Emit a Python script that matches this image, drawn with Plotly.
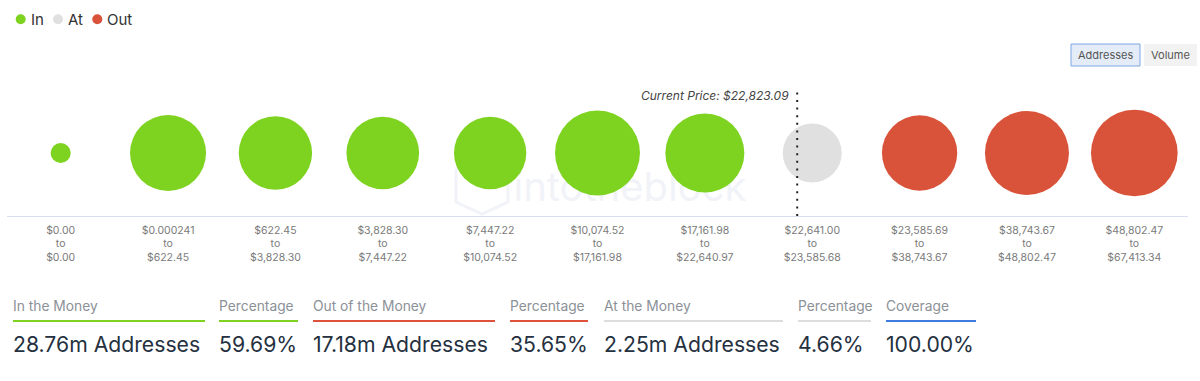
import plotly.graph_objects as go

# ---------------- data ----------------
range_labels = [
    "$0.00<br>to<br>$0.00",
    "$0.000241<br>to<br>$622.45",
    "$622.45<br>to<br>$3,828.30",
    "$3,828.30<br>to<br>$7,447.22",
    "$7,447.22<br>to<br>$10,074.52",
    "$10,074.52<br>to<br>$17,161.98",
    "$17,161.98<br>to<br>$22,640.97",
    "$22,641.00<br>to<br>$23,585.68",
    "$23,585.69<br>to<br>$38,743.67",
    "$38,743.67<br>to<br>$48,802.47",
    "$48,802.47<br>to<br>$67,413.34",
]
status = ["In", "In", "In", "In", "In", "In", "In", "At", "Out", "Out", "Out"]
addresses_m = [0.33, 4.74, 4.41, 4.33, 4.29, 5.92, 5.12, 2.85, 4.65, 5.79, 6.16]
current_price_label = "Current Price: $22,823.09"
current_price_pos = 6.86  # position along the range axis

stat_labels = ["In the Money", "Percentage", "Out of the Money", "Percentage",
               "At the Money", "Percentage", "Coverage"]
stat_values = ["28.76m Addresses", "59.69%", "17.18m Addresses", "35.65%",
               "2.25m Addresses", "4.66%", "100.00%"]

colors = {"In": "#7ED321", "At": "#E0E0E0", "Out": "#D9533A"}
stat_colors = ["#7ED321", "#7ED321", "#E0513C", "#E0513C", "#DDDDDD", "#DDDDDD", "#3D7BE0"]
stat_x_px = [13, 219, 313, 510, 604, 798, 886]
stat_w_px = [192, 79, 182, 78, 179, 73, 90]

# ---------------- layout geometry ----------------
W, H = 1200, 381
ML, MR, MT, MB = 7, 12, 90, 165
PW = W - ML - MR
PH = H - MT - MB
FONT = "Inter, 'Noto Sans', sans-serif"


def px(xp):
    return (xp - ML) / PW


def py(yp):
    return (H - MB - yp) / PH


fig = go.Figure()
xs = list(range(len(range_labels)))
for group in ["In", "At", "Out"]:
    idx = [i for i, s in enumerate(status) if s == group]
    fig.add_trace(go.Scatter(
        x=[xs[i] for i in idx],
        y=[0 for _ in idx],
        mode="markers",
        name=group,
        marker=dict(size=[addresses_m[i] for i in idx], sizemode="area",
                    sizeref=0.00164, color=colors[group], opacity=1,
                    line=dict(width=0)),
        showlegend=False,
        hoverinfo="skip",
    ))

shapes = []
annotations = []

# watermark (below data)
shapes.append(dict(type="rect", xref="paper", yref="paper",
                   x0=px(515), x1=px(745), y0=py(205), y1=py(165),
                   line=dict(width=0), fillcolor="rgba(0,0,0,0)", layer="below",
                   label=dict(text="intotheblock",
                              font=dict(family=FONT, size=40, color="#F1F3F8"))))
shapes.append(dict(type="path", xref="paper", yref="paper", layer="below",
                   path=("M {a},{b} L {c},{d} L {e},{b} L {e},{f} L {c},{g} L {a},{f} Z"
                         .format(a=px(456), b=py(170), c=px(482), d=py(158),
                                 e=px(508), f=py(202), g=py(214))),
                   line=dict(color="#F1F3F8", width=3), fillcolor="rgba(0,0,0,0)"))

# current price line
shapes.append(dict(type="line", xref="x", yref="paper",
                   x0=current_price_pos, x1=current_price_pos, y0=0, y1=py(87),
                   line=dict(color="#222222", width=2, dash="2px,5.6px")))
annotations.append(dict(x=current_price_pos, xref="x", xshift=-6, y=py(95), yref="paper",
                        text="<i>" + current_price_label + "</i>", showarrow=False,
                        xanchor="right", yanchor="middle",
                        font=dict(family=FONT, size=12, color="#444444")))

# legend (custom)
legend_items = [("In", 20.7, 31), ("At", 58, 68), ("Out", 97.3, 107)]
for name, cx, tx in legend_items:
    shapes.append(dict(type="circle", xref="paper", yref="paper",
                       xsizemode="pixel", ysizemode="pixel",
                       xanchor=px(cx), yanchor=py(19.3),
                       x0=-5, x1=5, y0=-5, y1=5,
                       fillcolor=colors[name], line=dict(width=0)))
    annotations.append(dict(x=px(tx), y=py(19.3), xref="paper", yref="paper",
                            text=name, showarrow=False, xanchor="left", yanchor="middle",
                            xshift=-2,
                            font=dict(family=FONT, size=15, color="#333333")))

# buttons
shapes.append(dict(type="rect", xref="paper", yref="paper",
                   x0=px(1071), x1=px(1140), y0=py(66), y1=py(44),
                   fillcolor="#E4ECF8", line=dict(color="#7EA6E4", width=1)))
shapes.append(dict(type="rect", xref="paper", yref="paper",
                   x0=px(1144), x1=px(1197), y0=py(66), y1=py(44),
                   fillcolor="#F2F2F2", line=dict(width=0)))
annotations.append(dict(x=px(1105.5), y=py(55), xref="paper", yref="paper", text="Addresses",
                        showarrow=False, xanchor="center", yanchor="middle",
                        font=dict(family=FONT, size=11, color="#555555")))
annotations.append(dict(x=px(1170.5), y=py(55), xref="paper", yref="paper", text="Volume",
                        showarrow=False, xanchor="center", yanchor="middle",
                        font=dict(family=FONT, size=11, color="#555555")))

# bottom stats
for lab, val, c, x0, w in zip(stat_labels, stat_values, stat_colors, stat_x_px, stat_w_px):
    annotations.append(dict(x=px(x0), y=py(305.5), xref="paper", yref="paper", text=lab,
                            showarrow=False, xanchor="left", yanchor="middle", xshift=-2,
                            font=dict(family=FONT, size=13.8, color="#8C9198")))
    annotations.append(dict(x=px(x0), y=py(344), xref="paper", yref="paper", text=val,
                            showarrow=False, xanchor="left", yanchor="middle", xshift=-2,
                            font=dict(family=FONT, size=21.2, color="#25313F")))
    shapes.append(dict(type="line", xref="paper", yref="paper",
                       x0=px(x0), x1=px(x0 + w), y0=py(321), y1=py(321),
                       line=dict(color=c, width=2)))

fig.update_layout(
    width=W, height=H,
    margin=dict(l=ML, r=MR, t=MT, b=MB),
    paper_bgcolor="white", plot_bgcolor="white",
    shapes=shapes, annotations=annotations,
    showlegend=False,
    xaxis=dict(range=[-0.5, 10.5], tickmode="array", tickvals=xs, ticktext=range_labels,
               showgrid=False, zeroline=False, showline=True, linecolor="#D8E0F0",
               linewidth=1, ticks="outside", ticklen=4, tickcolor="rgba(0,0,0,0)",
               fixedrange=True,
               tickfont=dict(family=FONT, size=10.5, color="#7A7A7A")),
    yaxis=dict(range=[-1, 1], visible=False, fixedrange=True),
)

fig.write_html("out.html", config={"displayModeBar": False},
               post_script="document.body.style.margin='0px';document.body.style.overflow='hidden';")
